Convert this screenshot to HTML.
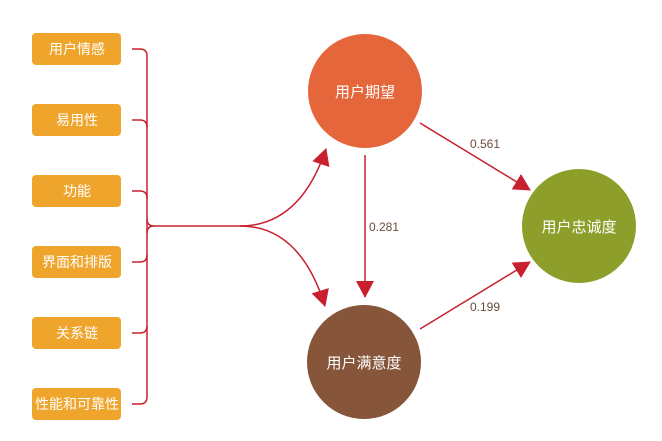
<!DOCTYPE html>
<html><head><meta charset="utf-8"><style>
body{margin:0;background:#fff;}
svg{display:block;}
text{font-family:"Liberation Sans","Noto Sans CJK SC",sans-serif;}
</style></head><body>
<svg width="662" height="441" viewBox="0 0 662 441">
<defs>
<marker id="b" markerWidth="18" markerHeight="18" refX="16" refY="9" orient="auto" markerUnits="userSpaceOnUse" viewBox="0 0 18 18">
<path d="M0,0 L17,9 L0,18 z" fill="#C8202F"/></marker>
</defs>
<g fill="#EFA42C">
<rect x="32" y="33" width="89" height="32" rx="4"/>
<rect x="32" y="104" width="89" height="32" rx="4"/>
<rect x="32" y="175" width="89" height="32" rx="4"/>
<rect x="32" y="246" width="89" height="32" rx="4"/>
<rect x="32" y="317" width="89" height="32" rx="4"/>
<rect x="32" y="388" width="89" height="32" rx="4"/>
</g>
<g fill="#fff" font-size="14" text-anchor="middle">
<text x="77" y="54">用户情感</text>
<text x="77" y="125">易用性</text>
<text x="77" y="196">功能</text>
<text x="77" y="267">界面和排版</text>
<text x="77" y="338">关系链</text>
<text x="77" y="409">性能和可靠性</text>
</g>
<g stroke="#C8202F" stroke-width="1.5" fill="none">
<path d="M132,49 h8 q7,0 7,7 V397 q0,7 -7,7 h-8"/>
<path d="M132,120 h8 q7,0 7,7"/>
<path d="M132,191 h8 q7,0 7,7"/>
<path d="M132,262 h8 q7,0 7,-7"/>
<path d="M132,333 h8 q7,0 7,-7"/>
<path d="M147,219 q0,7 7,7 q-7,0 -7,7"/>
<path d="M154,226 H240 Q300,226 326,149" marker-end="url(#b)"/>
<path d="M240,226 Q300,226 325,306" marker-end="url(#b)"/>
<path d="M365,155 V297" marker-end="url(#b)"/>
<path d="M420,123 L530,190" marker-end="url(#b)"/>
<path d="M420,329 L530,262" marker-end="url(#b)"/>
</g>
<circle cx="365" cy="91" r="57" fill="#E4663A"/>
<circle cx="364" cy="362" r="57" fill="#86553A"/>
<circle cx="579" cy="226" r="57" fill="#8E9E2A"/>
<g fill="#fff" font-size="15" text-anchor="middle">
<text x="365" y="97">用户期望</text>
<text x="364" y="368">用户满意度</text>
<text x="579" y="232">用户忠诚度</text>
</g>
<g fill="#6b4a3a" font-size="12">
<text x="369" y="231">0.281</text>
<text x="470" y="148">0.561</text>
<text x="470" y="311">0.199</text>
</g>
</svg>
</body></html>
